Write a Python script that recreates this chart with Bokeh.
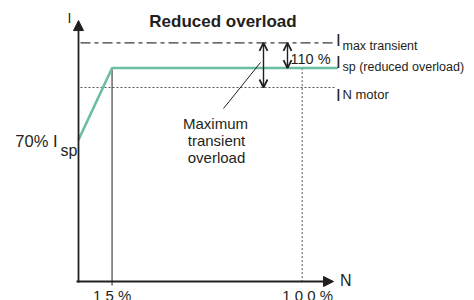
from bokeh.plotting import figure
from bokeh.models import Range1d, Arrow, NormalHead, OpenHead
from bokeh.core.properties import value
from bokeh.embed import file_html
from bokeh.resources import INLINE

# ---- diagram values (schematic units: % of nominal speed / % current) ----
speed_pct = [0, 15, 116]          # green current-limit curve, x
current_pct = [73, 110, 110]      # green current-limit curve, y
I_MAX = 123                       # I max transient
I_SP = 110                        # I sp (reduced overload)
I_N = 100                         # I N motor
LINE_END = 115                    # end of the horizontal reference lines
N_TICKS = [15, 100]
N_TICK_LABELS = ["1 5  %", "1 0 0 %"]
AXIS_X_END = 114
AXIS_Y_END = 134.5

# ---- mapping between schematic units and canvas pixels (layout only) ----
OX, SX = 78.0, 2.237
OY, SY = 281.0, 1.94
TXT_DY = -5  # text baseline correction
def X(px):
    return (px - OX) / SX
def Y(py):
    return (OY - py) / SY

W, H = 474, 300
p = figure(width=W, height=H, output_backend="svg", toolbar_location=None,
           x_range=Range1d(X(0), X(W)), y_range=Range1d(Y(H), Y(0)),
           min_border=0)
p.axis.visible = False
p.grid.visible = False
p.outline_line_color = None
p.background_fill_color = "white"
p.border_fill_color = "white"

INK = "#231f20"
FONT = value("Liberation Sans")

# reference lines
p.line([X(80), LINE_END], [I_MAX, I_MAX], line_color="#3a3a3a", line_width=1.4,
       line_dash="10 4 4 4")
p.line([X(80), LINE_END], [I_N, I_N], line_color="#555555", line_width=1,
       line_dash="2 2")
# verticals at tick speeds
p.line([N_TICKS[0], N_TICKS[0]], [I_SP, Y(285)], line_color=INK, line_width=1)
p.line([N_TICKS[1], N_TICKS[1]], [I_SP, 0], line_color="#555555", line_width=1,
       line_dash="2 2")
# green curve
p.line(speed_pct, current_pct, line_color="#6cbda5", line_width=2.5)

# axes with arrows
p.add_layout(Arrow(x_start=X(76), y_start=0, x_end=AXIS_X_END, y_end=0,
                   line_color=INK, line_width=1.8,
                   end=NormalHead(size=10, fill_color=INK, line_color=INK)))
p.add_layout(Arrow(x_start=0, y_start=Y(282), x_end=0, y_end=AXIS_Y_END,
                   line_color=INK, line_width=1.8,
                   end=NormalHead(size=10, fill_color=INK, line_color=INK)))

# double arrows
p.add_layout(Arrow(x_start=X(263), y_start=I_MAX, x_end=X(263), y_end=I_N,
                   line_color=INK, line_width=1.4,
                   start=OpenHead(size=8, line_color=INK, line_width=1.8),
                   end=OpenHead(size=8, line_color=INK, line_width=1.8)))
p.add_layout(Arrow(x_start=X(287), y_start=I_MAX, x_end=X(287), y_end=I_SP,
                   line_color=INK, line_width=1.4,
                   start=OpenHead(size=8, line_color=INK, line_width=1.8),
                   end=OpenHead(size=8, line_color=INK, line_width=1.8)))
# leader line
p.line([X(260), X(223)], [Y(62), Y(108)], line_color=INK, line_width=1)


def txt(px, py, s, size, align="left", bold=False):
    p.text(x=[X(px)], y=[Y(py + TXT_DY)], text=[s], text_font=FONT,
           text_font_size=value(f"{size}px"), text_align=align,
           text_baseline="alphabetic", text_color=INK,
           text_font_style="bold" if bold else "normal")


txt(222.5, 25.5, "Reduced overload", 17, "center", bold=True)
txt(69, 22.5, "I", 14, "center")
txt(339.5, 285, "N", 16)

# right-hand labels
txt(335.5, 45, "I", 17)
txt(342, 50, "max transient", 12.5)
txt(335.5, 67, "I", 17)
txt(342, 71, "sp (reduced overload)", 12.5)
txt(335.5, 100, "I", 17)
txt(342, 99, "N motor", 13)

txt(290, 63.5, "110 %", 14.5)

txt(215, 128, "Maximum", 15, "center")
txt(216, 145, "transient", 15, "center")
txt(216, 162, "overload", 15, "center")

txt(57, 145, "70% I", 16.5, "right")
txt(77, 155, "sp", 16, "right")

p.text(x=N_TICKS, y=[Y(300 + TXT_DY)] * len(N_TICKS), text=N_TICK_LABELS,
       text_font=FONT, text_font_size=value("15px"), text_align="left",
       text_baseline="alphabetic", text_color=INK,
       x_offset=[-19, -20])

open("out.html", "w").write(file_html(p, INLINE))
